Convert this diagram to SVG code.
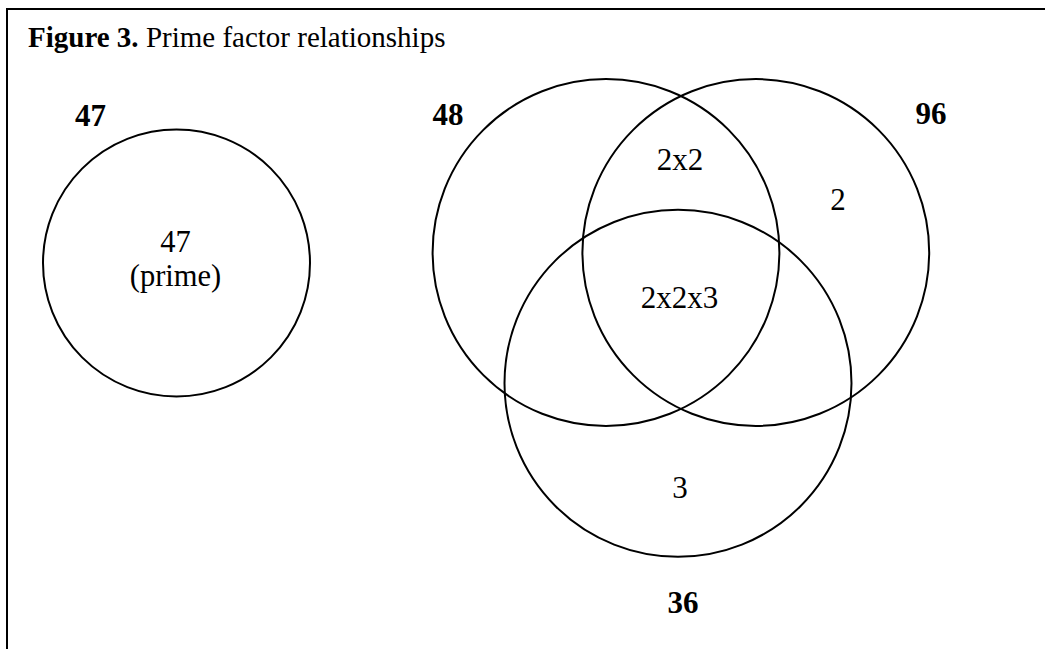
<svg xmlns="http://www.w3.org/2000/svg" width="1045" height="649" viewBox="0 0 1045 649">
<style>
.c{fill:none;stroke:#000;stroke-width:2}
.t{font-family:"Liberation Serif","Times New Roman",serif;fill:#000;text-anchor:middle}
.b{font-weight:bold;font-size:31px}
.n{font-size:31px}
</style>
<rect width="1045" height="649" fill="#fff"/>
<path d="M7,649 V9 H1045" fill="none" stroke="#000" stroke-width="2"/>
<text x="28" y="46.5" font-family="Liberation Serif, Times New Roman, serif" font-size="29" fill="#000"><tspan font-weight="bold">Figure 3.</tspan> Prime factor relationships</text>
<g id="set47">
<circle class="c" cx="176.5" cy="263" r="133.5"/>
<text class="t b" x="90.5" y="125.5">47</text>
<text class="t" font-size="30.5" x="175.5" y="251.5">47</text>
<text class="t" font-size="30.5" x="175.5" y="285.5">(prime)</text>
</g>
<g id="set48">
<circle class="c" cx="606" cy="252.5" r="173.4"/>
<text class="t b" x="448" y="125">48</text>
</g>
<g id="set96">
<circle class="c" cx="755.8" cy="252.5" r="173.4"/>
<text class="t b" x="931" y="124">96</text>
</g>
<g id="set36">
<circle class="c" cx="678" cy="383.3" r="173.5"/>
<text class="t b" x="683" y="613">36</text>
</g>
<g id="regions">
<text class="t n" x="680" y="170">2x2</text>
<text class="t n" x="838" y="210">2</text>
<text class="t n" x="679.5" y="308">2x2x3</text>
<text class="t n" x="680" y="498">3</text>
</g>
</svg>
